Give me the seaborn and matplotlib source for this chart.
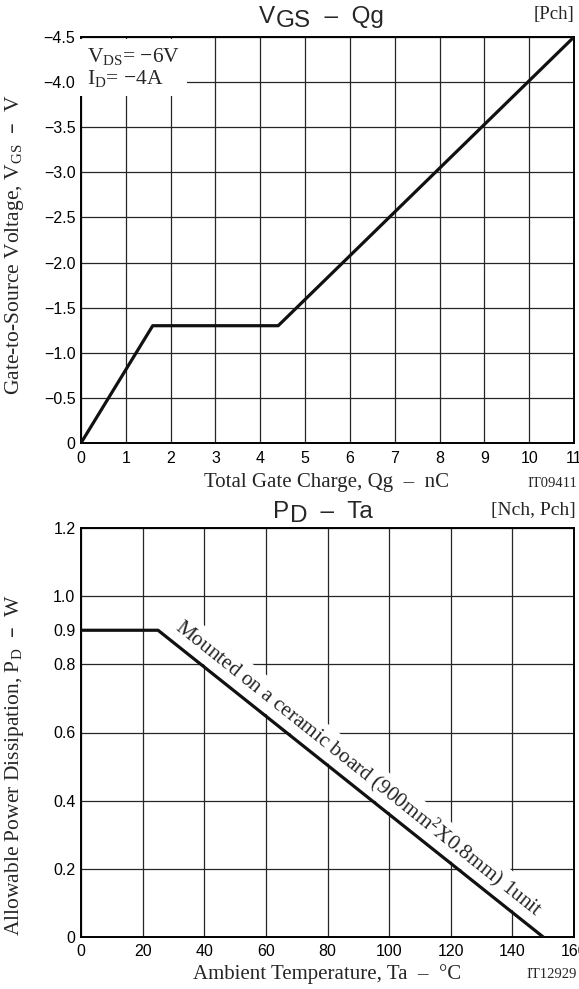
import matplotlib
matplotlib.use("Agg")
import matplotlib.pyplot as plt
import seaborn as sns
import numpy as np

# ---- data ----
qg = [0, 1.6, 4.4, 11]
vgs = [0, -1.3, -1.3, -4.5]
qg_ticks = list(range(0, 12))
vgs_ticks = [0, -0.5, -1.0, -1.5, -2.0, -2.5, -3.0, -3.5, -4.0, -4.5]
vgs_ticklabels = ["0", "−0.5", "−1.0", "−1.5", "−2.0", "−2.5", "−3.0", "−3.5", "−4.0", "−4.5"]

ta = [0, 25, 150]
pd_w = [0.9, 0.9, 0]
ta_ticks = list(range(0, 161, 20))
pd_ticks = [0, 0.2, 0.4, 0.6, 0.8, 0.9, 1.0, 1.2]
pd_ticklabels = ["0", "0.2", "0.4", "0.6", "0.8", "0.9", "1.0", "1.2"]
pd_grid = [0, 0.2, 0.4, 0.6, 0.8, 1.0, 1.2]

sns.set_theme(style="white")
plt.rcParams["font.family"] = ["Liberation Sans", "DejaVu Sans"]
plt.rcParams["mathtext.default"] = "regular"

W, H = 579, 989
fig = plt.figure(figsize=(W / 100, H / 100), dpi=100)

def fx(x):
    return x / W

def fy(y):
    return 1 - y / H

SERIF = ["Liberation Serif", "DejaVu Serif"]
SANS = ["Liberation Sans", "DejaVu Sans"]
GRID = "#262626"

L, R = 81, 574
ax1 = fig.add_axes([fx(L), fy(443), (R - L) / W, (443 - 37) / H])
ax2 = fig.add_axes([fx(L), fy(937), (R - L) / W, (937 - 528) / H])

def style(ax, xpad):
    ax.set_axisbelow(True)
    for s in ax.spines.values():
        s.set_color("black")
        s.set_linewidth(1.4)
    ax.tick_params(length=0, labelsize=11.5, colors="black")
    ax.tick_params(axis="x", pad=xpad)
    ax.tick_params(axis="y", pad=4)
    for lab in ax.get_xticklabels() + ax.get_yticklabels():
        lab.set_fontfamily(SANS)

def title_chain(x, y, main, sub, rest, size):
    t1 = fig.text(fx(x), fy(y), main, fontfamily=SANS, fontsize=size, ha="left", va="bottom")
    t2 = plt.annotate(sub, xy=(1, 0), xycoords=t1, xytext=(0.3, -3.2), textcoords="offset points",
                      fontfamily=SANS, fontsize=size, ha="left", va="bottom",
                      annotation_clip=False)
    plt.annotate(rest, xy=(1, 0), xycoords=t2, xytext=(0, 3.2), textcoords="offset points",
                 fontfamily=SANS, fontsize=size, ha="left", va="bottom", annotation_clip=False)

# ---- top chart ----
sns.lineplot(x=qg, y=vgs, ax=ax1, color="#111111", lw=2.3, zorder=4)
ax1.set_xlim(0, 11)
ax1.set_ylim(0, -4.5)
ax1.set_xticks(qg_ticks)
ax1.set_yticks(vgs_ticks)
ax1.set_yticklabels(vgs_ticklabels)
ax1.grid(True, color=GRID, lw=0.9)
ax1.set_xlabel("")
ax1.set_ylabel("")
style(ax1, 6)
ax1.text(0.14, -4.40, "V$_{DS}$= −6V\nI$_{D}$= −4A", fontfamily=SERIF, fontsize=15.5,
         va="top", ha="left", linespacing=1.05, zorder=3,
         bbox=dict(facecolor="white", edgecolor="none", pad=5))

plt.sca(ax1)
title_chain(259, 28, "V", "GS", "  –  Qg", 17.5)
fig.text(fx(574), fy(15), "[Pch]", fontfamily=SERIF, fontsize=13.5, ha="right", va="center")
fig.text(fx(327), fy(483), "Total Gate Charge, Qg  –  nC", fontfamily=SERIF, fontsize=15,
         ha="center", va="center")
fig.text(fx(577), fy(484), "IT09411", fontfamily=SERIF, fontsize=10.5, ha="right", va="center")
fig.text(fx(15), fy(245), "Gate-to-Source Voltage, V$_{GS}$  –  V", fontfamily=SERIF,
         fontsize=15.5, rotation=90, ha="center", va="center")

# ---- bottom chart ----
sns.lineplot(x=ta, y=pd_w, ax=ax2, color="#111111", lw=2.3, zorder=4)
ax2.set_xlim(0, 160)
ax2.set_ylim(0, 1.2)
ax2.set_xticks(ta_ticks)
ax2.set_yticks(pd_ticks)
ax2.set_yticklabels(pd_ticklabels)
ax2.grid(True, axis="x", color=GRID, lw=0.9)
for g in pd_grid:
    ax2.axhline(g, color=GRID, lw=0.9, zorder=0.5)
ax2.set_xlabel("")
ax2.set_ylabel("")
style(ax2, 5)

ang = np.degrees(np.arctan2(pd_w[2] - pd_w[1], ta[2] - ta[1]))
ax2.text(90.2, 0.495, "Mounted on a ceramic board (900mm$^{2}$X0.8mm) 1unit",
         fontfamily=SERIF, fontsize=15.3, rotation=ang, transform_rotates_text=True,
         rotation_mode="anchor", ha="center", va="center", zorder=3,
         bbox=dict(facecolor="white", edgecolor="none", pad=2))

plt.sca(ax2)
title_chain(273, 523, "P", "D", "  –  Ta", 17.5)
fig.text(fx(576), fy(511), "[Nch, Pch]", fontfamily=SERIF, fontsize=14, ha="right", va="center")
fig.text(fx(327), fy(974), "Ambient Temperature, Ta  –  °C", fontfamily=SERIF, fontsize=15,
         ha="center", va="center")
fig.text(fx(577), fy(974), "IT12929", fontfamily=SERIF, fontsize=10.5, ha="right", va="center")
fig.text(fx(15), fy(765), "Allowable Power Dissipation, P$_{D}$  –  W", fontfamily=SERIF,
         fontsize=15.5, rotation=90, ha="center", va="center")

fig.savefig("out.png", dpi=100, facecolor="white")
